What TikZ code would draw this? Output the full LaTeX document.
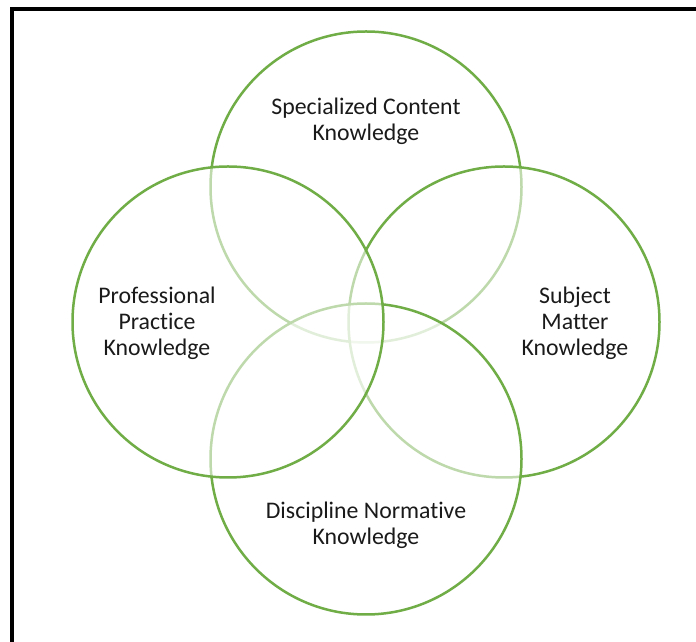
\documentclass[tikz,border=0pt]{standalone}
\usepackage{fontspec}
\setmainfont{Carlito}[Ligatures=NoCommon]
\definecolor{ringgreen}{HTML}{70AD47}
\definecolor{labeltext}{HTML}{1A1A1A}
\begin{document}
\begin{tikzpicture}[x=1pt,y=1pt,
  ring/.style={circle, minimum size=311pt, inner sep=0pt, draw=ringgreen,
    line width=2.5pt, fill=white, fill opacity=0.55, draw opacity=1},
  caption/.style={align=center, text=labeltext,
    font=\fontsize{23.8}{26}\selectfont}]
  % canvas and frame
  \useasboundingbox (0,0) rectangle (696,642);
  \fill[white] (0,0) rectangle (696,642);
  \coordinate (fb) at (11.8,0);
  \coordinate (fc) at (11.8,633.2);
  \coordinate (fr) at (696,633.2);
  \draw[line width=3.8pt, line cap=rect] (fb) -- (fc) -- (fr);

  % four overlapping rings, later ones veil the earlier outlines
  \node[ring] (sck) at (366,455) {};
  \node[ring] (smk) at (504,320) {};
  \node[ring] (dnk) at (366,183) {};
  \node[ring] (ppk) at (228,320) {};

  % captions
  \node[caption] (tsck) at (366,521) {Specialized Content\\Knowledge};
  \node[caption] (tppk) at (157,319) {Professional\\Practice\\Knowledge};
  \node[caption] (tsmk) at (575,319) {Subject\\Matter\\Knowledge};
  \node[caption] (tdnk) at (366,117) {Discipline Normative\\Knowledge};
\end{tikzpicture}
\end{document}
